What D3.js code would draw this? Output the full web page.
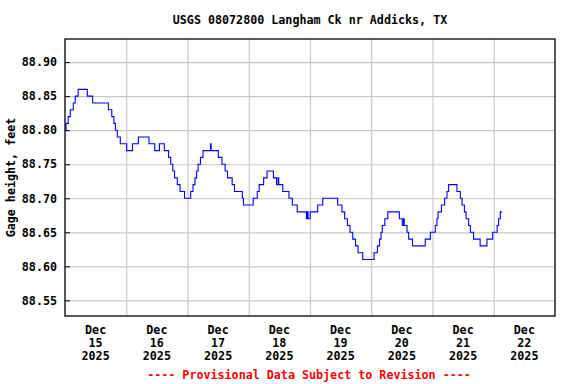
<!DOCTYPE html>
<html>
<head>
<meta charset="utf-8">
<script src="https://cdn.jsdelivr.net/npm/d3@7"></script>
<style>
  body { margin: 0; background: #fff; }
  text { font-family: "DejaVu Sans Mono", monospace; font-weight: bold; }
</style>
</head>
<body>
<div id="chartDiv"></div>
<script>
// gage readings, step changes (time, feet)
var stamps = [
  "2025-12-15 00:00","2025-12-15 00:25","2025-12-15 01:15","2025-12-15 02:05","2025-12-15 03:15",
  "2025-12-15 04:00","2025-12-15 05:10","2025-12-15 08:45","2025-12-15 10:50","2025-12-15 17:00",
  "2025-12-15 18:20","2025-12-15 19:10","2025-12-15 19:45","2025-12-15 20:30","2025-12-15 21:40",
  "2025-12-16 00:10","2025-12-16 02:25","2025-12-16 04:45","2025-12-16 08:55","2025-12-16 11:10",
  "2025-12-16 13:00","2025-12-16 14:55","2025-12-16 16:35","2025-12-16 17:25","2025-12-16 18:15",
  "2025-12-16 18:55","2025-12-16 20:00","2025-12-16 21:05","2025-12-16 22:50","2025-12-17 01:15",
  "2025-12-17 02:10","2025-12-17 02:55","2025-12-17 03:35","2025-12-17 04:10","2025-12-17 05:05",
  "2025-12-17 06:05","2025-12-17 09:00","2025-12-17 09:15","2025-12-17 12:05","2025-12-17 13:30",
  "2025-12-17 14:45","2025-12-17 15:40","2025-12-17 17:30","2025-12-17 18:25","2025-12-17 21:30",
  "2025-12-17 21:55","2025-12-18 01:45","2025-12-18 03:20","2025-12-18 04:05","2025-12-18 05:50",
  "2025-12-18 07:10","2025-12-18 09:40","2025-12-18 10:55","2025-12-18 11:30","2025-12-18 11:45",
  "2025-12-18 13:20","2025-12-18 15:45","2025-12-18 17:05","2025-12-18 19:00","2025-12-18 22:35",
  "2025-12-18 22:50","2025-12-18 23:15","2025-12-19 00:05","2025-12-19 03:00","2025-12-19 05:00",
  "2025-12-19 10:50","2025-12-19 12:30","2025-12-19 13:35","2025-12-19 14:40","2025-12-19 15:40",
  "2025-12-19 16:45","2025-12-19 17:50","2025-12-19 18:50","2025-12-19 20:40","2025-12-20 01:05",
  "2025-12-20 02:25","2025-12-20 03:15","2025-12-20 03:50","2025-12-20 04:20","2025-12-20 05:20",
  "2025-12-20 06:30","2025-12-20 11:00","2025-12-20 12:10","2025-12-20 12:40","2025-12-20 12:55",
  "2025-12-20 14:00","2025-12-20 14:40","2025-12-20 16:10","2025-12-20 21:10","2025-12-20 23:10",
  "2025-12-21 01:05","2025-12-21 01:45","2025-12-21 02:10","2025-12-21 03:30","2025-12-21 04:45",
  "2025-12-21 05:40","2025-12-21 06:20","2025-12-21 09:35","2025-12-21 10:55","2025-12-21 11:35",
  "2025-12-21 12:30","2025-12-21 13:10","2025-12-21 14:10","2025-12-21 14:50","2025-12-21 16:05",
  "2025-12-21 18:40","2025-12-21 21:20","2025-12-21 23:35","2025-12-22 01:20","2025-12-22 01:55",
  "2025-12-22 02:35","2025-12-22 03:15"
];
var gageFt = [
  88.80,88.81,88.82,88.83,88.84,
  88.85,88.86,88.85,88.84,88.83,
  88.82,88.81,88.80,88.79,88.78,
  88.77,88.78,88.79,88.78,88.77,
  88.78,88.77,88.76,88.75,88.74,
  88.73,88.72,88.71,88.70,88.71,
  88.72,88.73,88.74,88.75,88.76,
  88.77,88.78,88.77,88.76,88.75,
  88.74,88.73,88.72,88.71,88.70,
  88.69,88.70,88.71,88.72,88.73,
  88.74,88.73,88.72,88.73,88.72,
  88.71,88.70,88.69,88.68,88.67,
  88.68,88.67,88.68,88.69,88.70,
  88.69,88.68,88.67,88.66,88.65,
  88.64,88.63,88.62,88.61,88.62,
  88.63,88.64,88.65,88.66,88.67,
  88.68,88.67,88.66,88.67,88.66,
  88.65,88.64,88.63,88.64,88.65,
  88.66,88.67,88.68,88.69,88.70,
  88.71,88.72,88.71,88.70,88.69,
  88.68,88.67,88.66,88.65,88.64,
  88.63,88.64,88.65,88.66,88.67,
  88.68,88.68
];
var yTicks = [88.55, 88.60, 88.65, 88.70, 88.75, 88.80, 88.85, 88.90];
var dayLabels = ["2025-12-15","2025-12-16","2025-12-17","2025-12-18","2025-12-19","2025-12-20","2025-12-21","2025-12-22"];
var timeRange = ["2025-12-15 00:00", "2025-12-23 00:00"];
var gageRange = [88.527, 88.934];

var W = 576, H = 384;
var plotL = 65, plotT = 39, plotR = 555, plotB = 316;
var parseT = d3.timeParse("%Y-%m-%d %H:%M");
var parseD = d3.timeParse("%Y-%m-%d");

var data = stamps.map(function (s, i) { return { t: parseT(s), v: gageFt[i] }; });

var svg = d3.select('#chartDiv').append('svg')
  .attr('width', W).attr('height', H);

var x = d3.scaleTime().domain(timeRange.map(parseT)).range([plotL, plotR]);
var y = d3.scaleLinear().domain(gageRange).range([plotB, plotT]);

// grid
var midnights = d3.timeDay.range(d3.timeDay.offset(x.domain()[0], 1), x.domain()[1]);
svg.append('g')
  .attr('transform', 'translate(0,' + plotB + ')')
  .call(d3.axisBottom(x).tickValues(midnights).tickSize(-(plotB - plotT)).tickFormat(''))
  .call(function (g) {
    g.select('.domain').remove();
    g.selectAll('line').attr('stroke', '#c8c8c8').attr('stroke-width', 1.2);
  });
svg.append('g')
  .attr('transform', 'translate(' + plotL + ',0)')
  .call(d3.axisLeft(y).tickValues(yTicks).tickSize(-(plotR - plotL)).tickFormat(''))
  .call(function (g) {
    g.select('.domain').remove();
    g.selectAll('line').attr('stroke', '#c8c8c8').attr('stroke-width', 1.2);
  });

// y tick labels + short inner ticks
svg.append('g')
  .attr('transform', 'translate(' + plotL + ',0)')
  .call(d3.axisLeft(y).tickValues(yTicks).tickSizeInner(-5).tickSizeOuter(0).tickPadding(8).tickFormat(d3.format('.2f')))
  .call(function (g) {
    g.select('.domain').remove();
    g.selectAll('line').attr('stroke', '#000');
    g.selectAll('text').attr('font-size', '11.7px').attr('fill', '#000')
      .attr('font-family', '"DejaVu Sans Mono", monospace').attr('font-weight', 'bold');
  });

// x labels at noon of each day
var noons = dayLabels.map(function (d) { return d3.timeHour.offset(parseD(d), 12); });
var lab = svg.append('g').selectAll('text')
  .data(noons).enter().append('text')
  .attr('text-anchor', 'middle')
  .attr('font-size', '11.7px')
  .attr('fill', '#000');
lab.append('tspan').attr('x', function (d) { return x(d); }).attr('y', 334).text(d3.timeFormat('%b'));
lab.append('tspan').attr('x', function (d) { return x(d); }).attr('y', 347).text(function (d) { return +d3.timeFormat('%d')(d); });
lab.append('tspan').attr('x', function (d) { return x(d); }).attr('y', 360).text(d3.timeFormat('%Y'));

// data line
var line = d3.line()
  .x(function (d) { return x(d.t); })
  .y(function (d) { return y(d.v); })
  .curve(d3.curveStepAfter);
svg.append('path')
  .datum(data)
  .attr('d', line)
  .attr('fill', 'none')
  .attr('stroke', '#0000ff')
  .attr('stroke-width', 1.1);

// frame
svg.append('rect')
  .attr('x', plotL).attr('y', plotT)
  .attr('width', plotR - plotL).attr('height', plotB - plotT)
  .attr('fill', 'none').attr('stroke', '#000').attr('stroke-width', 1.3);

svg.append('text')
  .attr('x', (plotL + plotR) / 2).attr('y', 24)
  .attr('text-anchor', 'middle').attr('font-size', '11.7px')
  .text('USGS 08072800 Langham Ck nr Addicks, TX');

svg.append('text')
  .attr('transform', 'translate(15,' + ((plotT + plotB) / 2) + ') rotate(-90)')
  .attr('text-anchor', 'middle').attr('font-size', '11.7px')
  .text('Gage height, feet');

svg.append('text')
  .attr('x', (plotL + plotR) / 2 - 1).attr('y', 379)
  .attr('text-anchor', 'middle').attr('font-size', '11.7px')
  .attr('fill', '#ff0000')
  .text('---- Provisional Data Subject to Revision ----');
</script>
</body>
</html>
